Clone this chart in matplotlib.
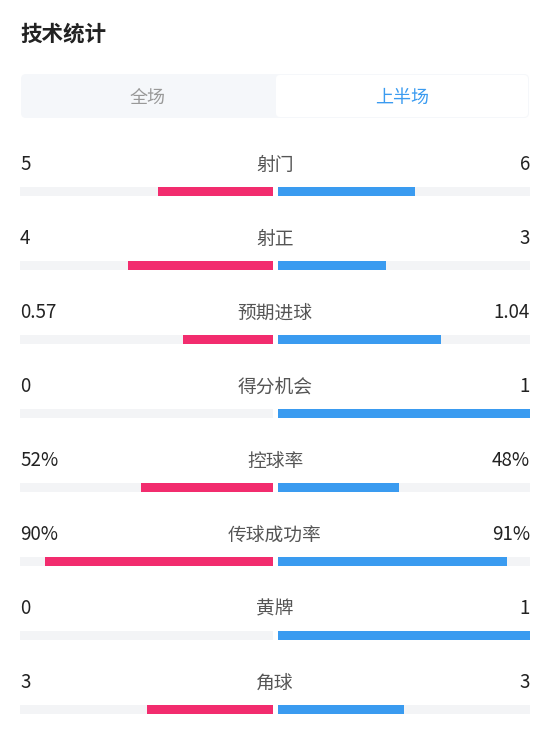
import matplotlib
matplotlib.use("Agg")
import matplotlib.pyplot as plt
from matplotlib.patches import FancyBboxPatch

plt.rcParams['font.family'] = ['Noto Sans CJK SC', 'DejaVu Sans']

categories = ["射门", "射正", "预期进球", "得分机会", "控球率", "传球成功率", "黄牌", "角球"]
home_vals = [5, 4, 0.57, 0, 52, 90, 0, 3]
away_vals = [6, 3, 1.04, 1, 48, 91, 1, 3]
home_labels = ["5", "4", "0.57", "0", "52%", "90%", "0", "3"]
away_labels = ["6", "3", "1.04", "1", "48%", "91%", "1", "3"]
is_percent = [False, False, False, False, True, True, False, False]
tabs = ["全场", "上半场"]

W, H = 550, 732
fig = plt.figure(figsize=(W/100, H/100), dpi=100)
ax = fig.add_axes([0, 0, 1, 1])
ax.set_xlim(0, W); ax.set_ylim(H, 0); ax.axis('off')

PINK = "#F22C6E"; BLUE = "#3A9BF0"; TRACK = "#F3F4F6"

ax.text(20, 34, "技术统计", fontsize=15.5, fontweight='bold', color="#222222", va='center')
ax.add_patch(FancyBboxPatch((21, 74), 508, 44, boxstyle="round,pad=0,rounding_size=5",
                            fc="#F5F7FA", ec="none"))
ax.add_patch(FancyBboxPatch((276, 75), 252, 42, boxstyle="round,pad=0,rounding_size=4",
                            fc="white", ec="none"))
ax.text(148, 98, tabs[0], fontsize=13, color="#999999", ha='center', va='center')
ax.text(402, 98, tabs[1], fontsize=13, color="#3A9BF0", ha='center', va='center')

lx0, lx1, rx0, rx1 = 20, 273, 278, 530
for i, (c, h, a) in enumerate(zip(categories, home_vals, away_vals)):
    ty = 165 + 74 * i
    by = 191 + 74 * i
    ax.text(20, ty, home_labels[i], fontsize=13.5, color="#222222", va='center')
    ax.text(530, ty, away_labels[i], fontsize=13.5, color="#222222", va='center', ha='right')
    ax.text(275, ty, c, fontsize=13.5, color="#555555", va='center', ha='center')
    ax.barh(by, lx1 - lx0, left=lx0, height=9, color=TRACK)
    ax.barh(by, rx1 - rx0, left=rx0, height=9, color=TRACK)
    if is_percent[i]:
        fh, fa = h / 100, a / 100
    else:
        tot = h + a
        fh = h / tot if tot else 0
        fa = a / tot if tot else 0
    ax.barh(by, fh * (lx1 - lx0), left=lx1 - fh * (lx1 - lx0), height=9, color=PINK)
    ax.barh(by, fa * (rx1 - rx0), left=rx0, height=9, color=BLUE)

fig.savefig("out.png", dpi=100)
